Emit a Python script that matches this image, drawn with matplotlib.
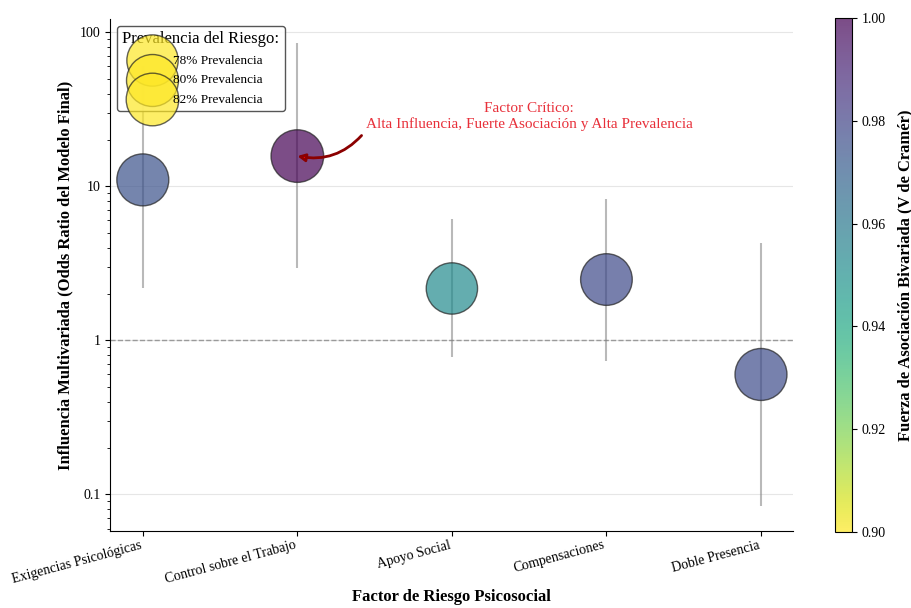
import numpy as np
import matplotlib
matplotlib.use('Agg')
import matplotlib.pyplot as plt
from matplotlib.ticker import FuncFormatter

plt.rcParams['font.family'] = ['Liberation Serif', 'DejaVu Serif']

# Datos
factores = ['Exigencias Psicológicas', 'Control sobre el Trabajo', 'Apoyo Social',
            'Compensaciones', 'Doble Presencia']
odds_ratio = [11.0, 15.7, 2.17, 2.48, 0.60]
ic_inferior = [2.17, 2.93, 0.78, 0.73, 0.084]
ic_superior = [60.0, 85.0, 6.1, 8.3, 4.3]
v_cramer = [0.975, 1.00, 0.952, 0.978, 0.977]
prevalencia = [80, 82, 78, 79, 80]
prev_leyenda = [78, 80, 82]

x = np.arange(len(factores))
tam = np.array(prevalencia) * 17.5

fig = plt.figure(figsize=(9.12, 6.08), dpi=100)
ax = fig.add_axes([0.121, 0.127, 0.749, 0.841])
cax = fig.add_axes([0.916, 0.125, 0.018, 0.845])

# Intervalos de confianza
ax.vlines(x, ic_inferior, ic_superior, color='gray', alpha=0.55, lw=1.5, zorder=2)

sc = ax.scatter(x, odds_ratio, s=tam, c=v_cramer, cmap='viridis_r', vmin=0.90, vmax=1.00,
                alpha=0.7, edgecolors='#222222', linewidths=1, zorder=3)

ax.set_yscale('log')
ax.set_ylim(0.058, 121)
ax.set_xlim(-0.21, 4.21)
ax.yaxis.set_major_formatter(FuncFormatter(lambda v, p: '{:g}'.format(v)))
ax.grid(axis='y', which='major', color='#e6e6e6', lw=0.8)
ax.axhline(1, color='#9a9a9a', ls='--', lw=1, zorder=1.8)
ax.spines['top'].set_visible(False)
ax.spines['right'].set_visible(False)

ax.set_xticks(x)
ax.set_xticklabels(factores, rotation=15, ha='right', fontsize=10)
ax.tick_params(axis='x', pad=2)
ax.tick_params(axis='y', labelsize=10)
ax.set_xlabel('Factor de Riesgo Psicosocial', fontsize=12, fontweight='bold', labelpad=2)
ax.set_ylabel('Influencia Multivariada (Odds Ratio del Modelo Final)', fontsize=12,
              fontweight='bold', labelpad=5)

# Barra de color
cb = fig.colorbar(sc, cax=cax)
cb.set_ticks([0.90, 0.92, 0.94, 0.96, 0.98, 1.00])
cb.ax.tick_params(labelsize=10)
cb.set_label('Fuerza de Asociación Bivariada (V de Cramér)', fontsize=12, fontweight='bold',
             labelpad=8)

# Leyenda de tamaños
amarillo = plt.get_cmap('viridis_r')(0.0)
handles = [ax.scatter([], [], s=p * 17.5, color=amarillo, alpha=0.7, edgecolors='#222222')
           for p in prev_leyenda]
ley = ax.legend(handles, ['{}% Prevalencia'.format(p) for p in prev_leyenda],
                title='Prevalencia del Riesgo:', loc='upper left', fontsize=9.5,
                title_fontsize=12, labelspacing=0.55, framealpha=0.9,
                edgecolor='#444444', borderpad=0.4, handletextpad=0.6,
                bbox_to_anchor=(0.0, 1.0))
ley.set_zorder(5)

# Anotación
ax.annotate('Factor Crítico:\nAlta Influencia, Fuerte Asociación y Alta Prevalencia',
            xy=(x[1], odds_ratio[1]), xytext=(2.5, 28.5), ha='center', va='center',
            color='#e8303a', fontsize=11,
            arrowprops=dict(arrowstyle='-|>', fc='red', ec='darkred', lw=2,
                            connectionstyle='arc3,rad=-0.3', relpos=(0, 0),
                            shrinkB=0))

fig.savefig('out.png', dpi=100)
